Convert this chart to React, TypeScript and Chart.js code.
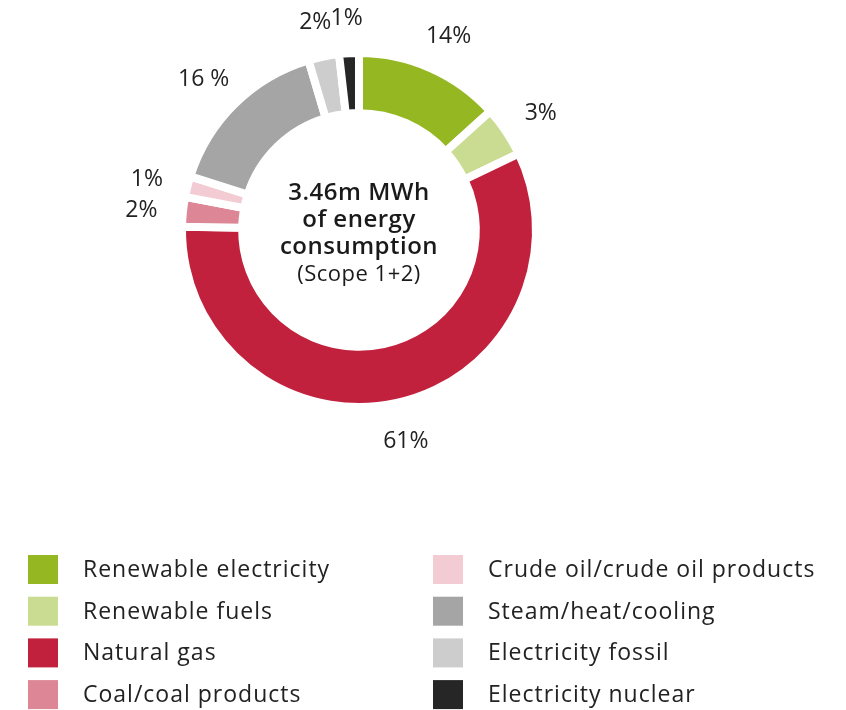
import React, { useEffect, useRef } from "react";
import { Chart, registerables } from "chart.js";

Chart.register(...registerables);

const categories = [
  "Renewable electricity",
  "Renewable fuels",
  "Natural gas",
  "Coal/coal products",
  "Crude oil/crude oil products",
  "Steam/heat/cooling",
  "Electricity fossil",
  "Electricity nuclear",
];
const shares = [13.3, 4.6, 57.4, 2.7, 1.9, 15.5, 2.8, 1.8];
// Percent labels printed next to each slice
const shareLabels = ["14%", "3%", "61%", "2%", "1%", "16 %", "2%", "1%"];
const colors = [
  "#95b722",
  "#c9dc92",
  "#c1213d",
  "#dc8696",
  "#f3cbd3",
  "#a5a5a5",
  "#cdcdcd",
  "#262626",
];
const centerLines = ["3.46m MWh", "of energy", "consumption", "(Scope 1+2)"];

const FONT = "'Open Sans', sans-serif";

const labelsPlugin = {
  id: "sliceLabels",
  afterDatasetsDraw(chart: any) {
    const ctx = chart.ctx;
    const meta = chart.getDatasetMeta(0);
    ctx.save();
    ctx.fillStyle = "#222";
    ctx.font = `23px ${FONT}`;
    ctx.textAlign = "center";
    ctx.textBaseline = "alphabetic";
    meta.data.forEach((arc: any, i: number) => {
      const p = arc.getProps(["x", "y", "startAngle", "endAngle", "outerRadius"], true);
      const mid = (p.startAngle + p.endAngle) / 2;
      const r = p.outerRadius + 37;
      const w = ctx.measureText(shareLabels[i]).width;
      const x = p.x + Math.cos(mid) * r + Math.cos(mid) * w * 0.15;
      ctx.fillText(shareLabels[i], x, p.y + Math.sin(mid) * r + 9);
    });
    // center text
    const a = meta.data[0];
    const cx = a.x;
    const cy = a.y;
    ctx.fillStyle = "#1a1a1a";
    const lh = 27;
    centerLines.forEach((t, i) => {
      if (i < 3) {
        ctx.font = `600 24px ${FONT}`;
        (ctx as any).letterSpacing = "0.5px";
      } else {
        ctx.font = `22px ${FONT}`;
        (ctx as any).letterSpacing = "0.5px";
      }
      ctx.fillText(t, cx, cy - 30 + i * lh);
    });
    ctx.restore();
  },
};

const legendPlugin = {
  id: "gridLegend",
  afterDraw(chart: any) {
    const ctx = chart.ctx;
    const ds = chart.data.datasets[0];
    ctx.save();
    ctx.textAlign = "left";
    ctx.textBaseline = "alphabetic";
    ctx.font = `23px ${FONT}`;
    (ctx as any).letterSpacing = "1px";
    chart.data.labels.forEach((lab: string, i: number) => {
      const col = Math.floor(i / 4);
      const row = i % 4;
      const bx = 28 + col * 405;
      const by = 555 + row * 41.7;
      ctx.fillStyle = ds.backgroundColor[i];
      ctx.fillRect(bx, by, 30, 29);
      ctx.fillStyle = "#222";
      ctx.fillText(lab, bx + 55, by + 22);
    });
    ctx.restore();
  },
};

export default function App() {
  const ref = useRef<HTMLCanvasElement>(null);
  useEffect(() => {
    if (!ref.current) return;
    const chart = new Chart(ref.current, {
      type: "doughnut",
      data: {
        labels: categories,
        datasets: [
          {
            data: shares,
            backgroundColor: colors,
            borderColor: "#ffffff",
            borderWidth: 8,
            borderAlign: "center",
            borderJoinStyle: "miter",
            radius: 177,
            hoverOffset: 0,
          } as any,
        ],
      },
      options: {
        responsive: false,
        animation: false,
        cutout: "66%",
        layout: { padding: { left: 0, right: 128, top: 0, bottom: 250 } },
        plugins: {
          legend: { display: false },
          tooltip: { enabled: false },
        },
        events: [],
      } as any,
      plugins: [labelsPlugin, legendPlugin],
    });
    return () => chart.destroy();
  }, []);
  return (
    <div style={{ position: "fixed", left: 0, top: 0, width: 846, height: 710, background: "#fff" }}>
      <canvas ref={ref} width={846} height={710} style={{ width: 846, height: 710 }} />
    </div>
  );
}
